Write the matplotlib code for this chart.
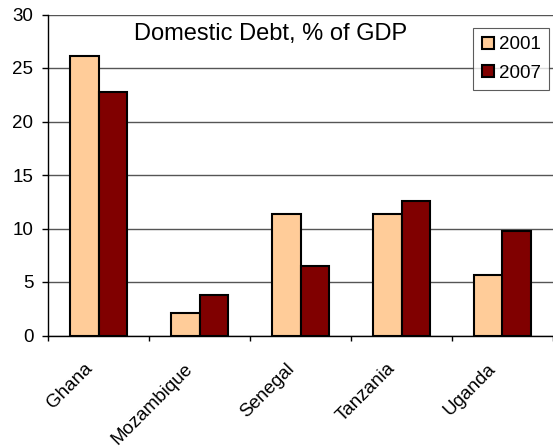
import matplotlib.pyplot as plt
import matplotlib.transforms as mtransforms
import numpy as np

plt.rcParams['font.family'] = ['Liberation Sans', 'DejaVu Sans']

countries = ['Ghana', 'Mozambique', 'Senegal', 'Tanzania', 'Uganda']
debt_2001 = [26.1, 2.1, 11.4, 11.4, 5.7]
debt_2007 = [22.8, 3.8, 6.5, 12.6, 9.8]
years = ['2001', '2007']

x = np.arange(len(countries))
w = 0.28

fig = plt.figure(figsize=(5.53, 4.47), dpi=100)
ax = fig.add_axes([48 / 553, 1 - 335.5 / 447, 505 / 553, 321 / 447])

ax.bar(x - w / 2, debt_2001, w, color='#FFCC99', edgecolor='black', linewidth=1.5,
       label=years[0], zorder=3)
ax.bar(x + w / 2, debt_2007, w, color='#800000', edgecolor='black', linewidth=1.5,
       label=years[1], zorder=3)

ax.set_xlim(-0.5, len(countries) - 0.5)
ax.set_ylim(0, 30)
ax.set_yticks(range(0, 31, 5))
ax.yaxis.grid(True, color='#555555', linewidth=1)
ax.set_axisbelow(True)

for s in ['top', 'right']:
    ax.spines[s].set_visible(False)
ax.spines['left'].set_linewidth(1)
ax.spines['bottom'].set_linewidth(1)

ax.set_xticks(x)
ax.set_xticklabels(countries, rotation=45, ha='right', va='center',
                   rotation_mode='anchor', fontsize=13.5)
ax.set_xticks(np.arange(-0.5, len(countries)), minor=True)
ax.tick_params(axis='x', which='major', length=0, pad=22)
ax.tick_params(axis='x', which='minor', length=3.6, width=1)
ax.tick_params(axis='y', length=4, width=1, labelsize=13.5, pad=6.5)

shift = mtransforms.ScaledTranslation(-9 / 100, 0, fig.dpi_scale_trans)
for lab in ax.get_xticklabels():
    lab.set_transform(lab.get_transform() + shift)

ax.text(0.4416, 0.9206, 'Domestic Debt, % of GDP', transform=ax.transAxes,
        ha='center', va='baseline', fontsize=17)

leg = ax.legend(loc='upper right', bbox_to_anchor=(0.992, 0.958), fontsize=13.5,
                frameon=True, fancybox=False, edgecolor='#333333', handlelength=0.65,
                handleheight=0.65, handletextpad=0.25, borderpad=0.45, labelspacing=0.6,
                borderaxespad=0)
leg.get_frame().set_linewidth(0.8)

fig.savefig('out.png', dpi=100)
